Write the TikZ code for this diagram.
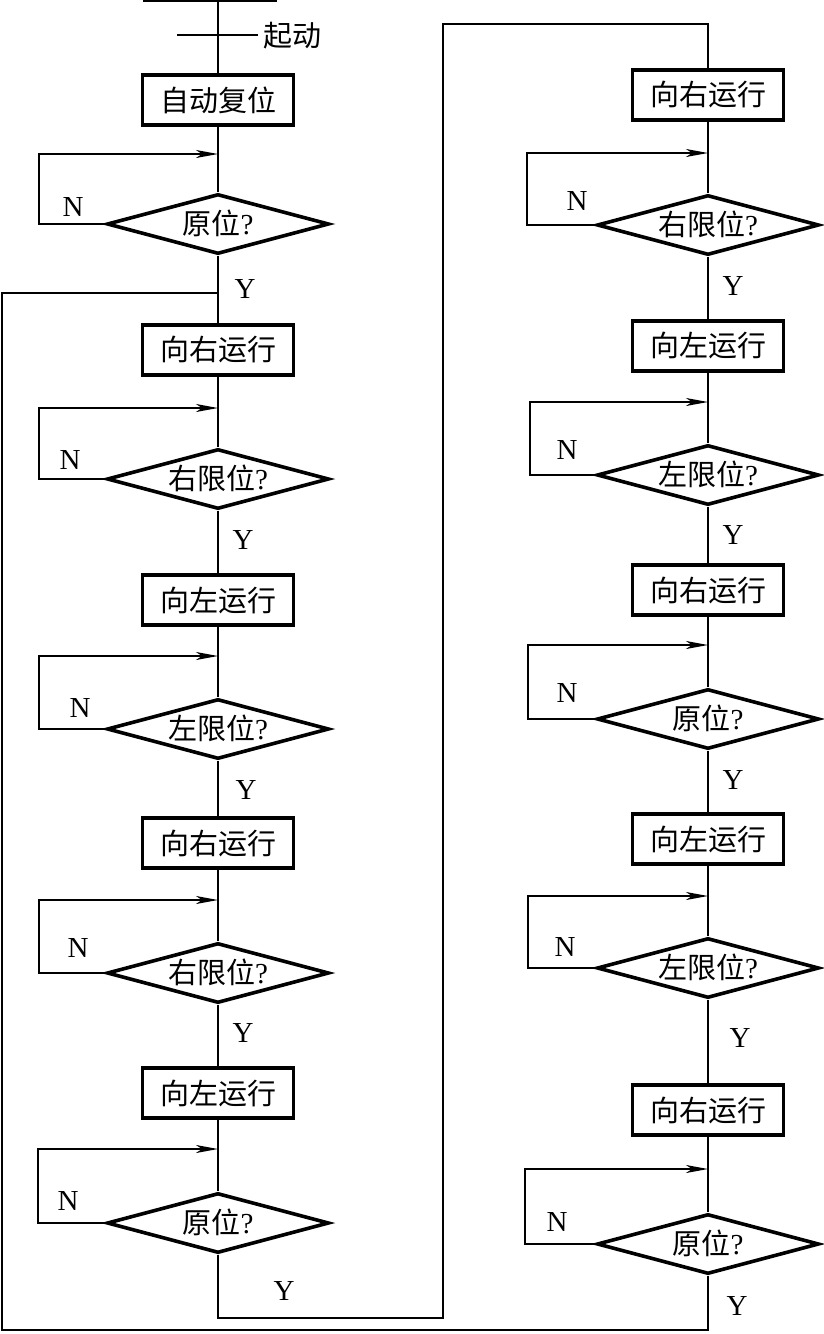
\documentclass[tikz,border=0pt]{standalone}
\usepackage{fontspec}
\setmainfont{Liberation Serif}
\newfontfamily\cjk{Noto Sans CJK SC}
\usepackage{tikz}
\usetikzlibrary{arrows.meta}
\usetikzlibrary{shapes.geometric}

\newcommand{\dtext}[1]{\smash{\makebox[0pt]{\raisebox{-10.5pt}{#1}}}}

\tikzset{
  stepbox/.style={draw, line width=3.6pt, minimum width=151pt, minimum height=50pt, inner sep=0pt, font=\cjk\fontsize{29}{32}\selectfont},
  test/.style={diamond, draw, line width=3.6pt, minimum width=222pt, minimum height=60pt, inner sep=0pt, font=\fontsize{29}{32}\selectfont},
  link/.style={line width=1.5pt},
  fb/.style={line width=1.5pt, -{Stealth[length=22pt,width=8pt,inset=6pt]}},
  yn/.style={inner sep=0pt, font=\fontsize{29}{32}\selectfont}
}

\begin{document}
\begin{tikzpicture}[x=1pt,y=-1pt]
\useasboundingbox (0,0) rectangle (823,1334);

% start
\coordinate (top) at (218,0);
\coordinate (barl) at (143,1);
\coordinate (barr) at (277,1);
\coordinate (keyl) at (177,35);
\coordinate (keyr) at (258,35);
\draw[link] (barl) -- (barr);
\draw[link] (keyl) -- (keyr);
\node[yn, anchor=west, font=\cjk\fontsize{29}{32}\selectfont] (start) at (263,36) {起动};

% left column
\node[stepbox] (a0) at (218,100) {自动复位};
\node[test] (t0) at (218,224) {\dtext{{\cjk 原位}?}};
\node[stepbox] (a1) at (218,350) {向右运行};
\node[test] (t1) at (218,479) {\dtext{{\cjk 右限位}?}};
\node[stepbox] (a2) at (218,600) {向左运行};
\node[test] (t2) at (218,729) {\dtext{{\cjk 左限位}?}};
\node[stepbox] (a3) at (218,843) {向右运行};
\node[test] (t3) at (218,973) {\dtext{{\cjk 右限位}?}};
\node[stepbox] (a4) at (218,1093) {向左运行};
\node[test] (t4) at (218,1223) {\dtext{{\cjk 原位}?}};

% right column
\node[stepbox] (b0) at (708,95) {向右运行};
\node[test] (u0) at (708,225) {\dtext{{\cjk 右限位}?}};
\node[stepbox] (b1) at (708,346) {向左运行};
\node[test] (u1) at (708,475) {\dtext{{\cjk 左限位}?}};
\node[stepbox] (b2) at (708,590) {向右运行};
\node[test] (u2) at (708,719) {\dtext{{\cjk 原位}?}};
\node[stepbox] (b3) at (708,839) {向左运行};
\node[test] (u3) at (708,968) {\dtext{{\cjk 左限位}?}};
\node[stepbox] (b4) at (708,1110) {向右运行};
\node[test] (u4) at (708,1244) {\dtext{{\cjk 原位}?}};

% merge points of the N loops
\coordinate (m0) at (218,154);
\coordinate (m1) at (218,408);
\coordinate (m2) at (218,656);
\coordinate (m3) at (218,900);
\coordinate (m4) at (218,1149);
\coordinate (k0) at (708,153);
\coordinate (k1) at (708,402);
\coordinate (k2) at (708,645);
\coordinate (k3) at (708,896);
\coordinate (k4) at (708,1169);

% left flow
\draw[link] (top) -- (a0.north);
\draw[link] (a0.south) -- (t0.north);
\draw[link] (t0.south) -- (a1.north);
\draw[link] (a1.south) -- (t1.north);
\draw[link] (t1.south) -- (a2.north);
\draw[link] (a2.south) -- (t2.north);
\draw[link] (t2.south) -- (a3.north);
\draw[link] (a3.south) -- (t3.north);
\draw[link] (t3.south) -- (a4.north);
\draw[link] (a4.south) -- (t4.north);
\draw[fb] (t0.west) -- ++(-66,0) |- (m0);
\draw[fb] (t1.west) -- ++(-66,0) |- (m1);
\draw[fb] (t2.west) -- ++(-66,0) |- (m2);
\draw[fb] (t3.west) -- ++(-66,0) |- (m3);
\draw[fb] (t4.west) -- ++(-67,0) |- (m4);

% right flow
\draw[link] (b0.south) -- (u0.north);
\draw[link] (u0.south) -- (b1.north);
\draw[link] (b1.south) -- (u1.north);
\draw[link] (u1.south) -- (b2.north);
\draw[link] (b2.south) -- (u2.north);
\draw[link] (u2.south) -- (b3.north);
\draw[link] (b3.south) -- (u3.north);
\draw[link] (u3.south) -- (b4.north);
\draw[link] (b4.south) -- (u4.north);
\draw[fb] (u0.west) -- ++(-68,0) |- (k0);
\draw[fb] (u1.west) -- ++(-65,0) |- (k1);
\draw[fb] (u2.west) -- ++(-67,0) |- (k2);
\draw[fb] (u3.west) -- ++(-67,0) |- (k3);
\draw[fb] (u4.west) -- ++(-70,0) |- (k4);

% crossing over and back
\coordinate (c1) at (443,1318);
\coordinate (c2) at (443,24);
\coordinate (c3) at (2,1330);
\coordinate (ret) at (218,293);
\draw[link] (t4.south) |- (c1) -- (c2) -| (b0.north);
\draw[link] (u4.south) |- (c3) |- (ret);

% labels
\node[yn] (n0) at (73,207) {N};
\node[yn] (n1) at (70,460) {N};
\node[yn] (n2) at (80,708) {N};
\node[yn] (n3) at (78,948) {N};
\node[yn] (n4) at (68,1201) {N};
\node[yn] (n5) at (577,201) {N};
\node[yn] (n6) at (567,450) {N};
\node[yn] (n7) at (567,693) {N};
\node[yn] (n8) at (565,947) {N};
\node[yn] (n9) at (557,1222) {N};
\node[yn] (y0) at (245,289) {Y};
\node[yn] (y1) at (243,540) {Y};
\node[yn] (y2) at (246,790) {Y};
\node[yn] (y3) at (243,1033) {Y};
\node[yn] (y4) at (284,1291) {Y};
\node[yn] (y5) at (733,286) {Y};
\node[yn] (y6) at (733,535) {Y};
\node[yn] (y7) at (733,780) {Y};
\node[yn] (y8) at (740,1038) {Y};
\node[yn] (y9) at (737,1306) {Y};
\end{tikzpicture}
\end{document}
